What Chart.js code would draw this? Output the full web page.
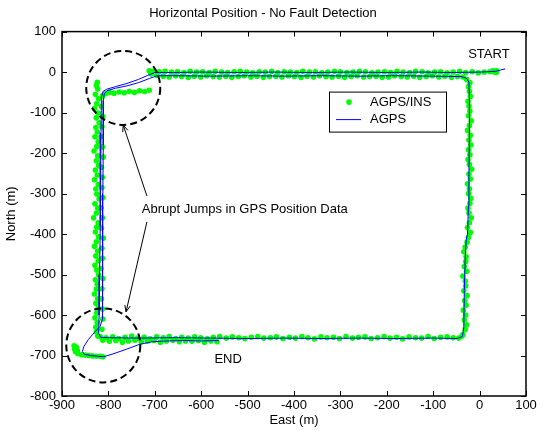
<!DOCTYPE html>
<html>
<head>
<meta charset="utf-8">
<title>Horizontal Position - No Fault Detection</title>
<script src="https://cdn.jsdelivr.net/npm/chart.js@4.4.1/dist/chart.umd.min.js"></script>
<style>
  html, body { margin: 0; padding: 0; background: #fff; }
  #wrap { width: 545px; height: 432px; }
</style>
</head>
<body>
<div id="wrap"><canvas id="posChart" width="545" height="432"></canvas></div>
<script>
// axis ranges and tick steps (metres)
const eastRange = [-900, 100];
const northRange = [-800, 100];
const tickStep = 100;

// AGPS track, [east, north] in driving order
const agpsTrack = [
  [55,8],[45,5],[35,2],[20,1],[0,0],[-60,-1],[-120,0],[-200,-1],[-280,0],[-360,-1],[-440,0],[-520,-1],[-600,0],[-660,-1],[-700,-1],
  [-715,-8],[-735,-18],[-760,-28],[-785,-36],[-803,-42],[-812,-48],[-815,-62],[-816,-150],[-817,-260],[-818,-380],[-819,-500],[-820,-600],[-821,-645],[-817,-655],
  [-800,-656],[-740,-657],[-660,-656],[-580,-657],[-500,-658],[-420,-657],[-340,-658],[-260,-657],[-180,-658],[-100,-657],[-48,-658],
  [-37,-653],[-34,-630],[-33,-540],[-31,-460],[-29,-415],[-26,-400],[-24,-330],[-23,-250],[-22,-150],[-22,-60],[-23,-25],[-28,-15],
  [-40,-11],[-100,-10],[-180,-9],[-260,-10],[-340,-9],[-420,-10],[-500,-9],[-580,-10],[-650,-9],[-695,-9],
  [-712,-16],[-735,-26],[-760,-34],[-785,-40],[-803,-46],[-809,-54],[-811,-70],[-811,-180],[-812,-300],[-812,-420],[-813,-540],[-813,-610],
  [-818,-628],[-830,-643],[-843,-660],[-853,-678],[-856,-690],[-852,-697],[-838,-700],[-822,-702],[-810,-703],
  [-790,-696],[-760,-684],[-732,-672],[-705,-666],[-674,-664],[-640,-663],[-600,-664],[-562,-663]
];

// AGPS/INS solution points, [east, north], one list per leg
const insStart = [[35,2],[33,0],[37,3],[31,2],[36,-1]];

const insTopFirstPass = [
  [28,3],[22,1],[10,0],[-3,-2],[-16,1],[-30,-1],[-43,2],[-57,0],[-70,-2],[-84,1],[-97,0],[-111,-2],[-124,1],[-138,2],
  [-151,-1],[-165,0],[-178,2],[-192,-1],[-205,1],[-219,0],[-232,-2],[-246,1],[-259,2],[-273,0],[-286,-1],[-300,1],
  [-313,2],[-327,0],[-340,-2],[-354,1],[-367,0],[-381,2],[-394,-1],[-408,0],[-421,1],[-435,-1],[-448,2],[-462,0],
  [-475,1],[-489,-2],[-502,0],[-516,2],[-529,1],[-543,-1],[-556,0],[-570,2],[-583,-1],[-597,1],[-610,0],[-624,2],
  [-637,-1],[-651,1],[-664,0],[-678,2],[-691,1],[-705,2],[-712,3]
];

const insTopSecondPass = [
  [-28,-18],[-36,-12],[-48,-11],[-61,-13],[-75,-10],[-88,-12],[-102,-9],[-115,-11],[-129,-13],[-142,-10],[-156,-12],
  [-169,-11],[-183,-9],[-196,-12],[-210,-13],[-223,-10],[-237,-11],[-250,-12],[-264,-9],[-277,-11],[-291,-13],[-304,-10],
  [-318,-12],[-331,-11],[-345,-9],[-358,-12],[-372,-10],[-385,-13],[-399,-11],[-412,-9],[-426,-12],[-439,-10],[-453,-11],
  [-466,-13],[-480,-10],[-493,-12],[-507,-9],[-520,-11],[-534,-13],[-547,-10],[-561,-12],[-574,-11],[-588,-9],[-601,-12],
  [-615,-10],[-628,-13],[-642,-11],[-655,-9],[-669,-12],[-682,-10],[-696,-8],[-708,-5]
];

const insTopLeftJump = [
  [-712,-45],[-722,-48],[-733,-46],[-744,-50],[-755,-48],[-766,-51],[-777,-49],[-788,-52],[-798,-50],[-806,-53],[-812,-58]
];

const insLeftFirstPass = [
  [-824,-25],[-826,-33],[-823,-42],[-828,-55],[-821,-66],[-825,-78],[-830,-90],[-822,-101],[-826,-113],[-820,-125],
  [-827,-137],[-824,-148],[-829,-160],[-822,-172],[-825,-184],[-831,-195],[-823,-207],[-826,-219],[-821,-231],[-828,-242],
  [-824,-254],[-830,-266],[-822,-278],[-827,-289],[-825,-301],[-820,-313],[-829,-325],[-823,-336],[-826,-348],[-832,-360],
  [-822,-372],[-825,-383],[-828,-395],[-821,-407],[-826,-419],[-830,-430],[-823,-442],[-827,-454],[-822,-466],[-829,-477],
  [-825,-489],[-821,-501],[-828,-513],[-824,-524],[-826,-536],[-830,-548],[-823,-560],[-827,-571],[-822,-583],[-825,-595],
  [-829,-607],[-824,-618],[-827,-630],[-826,-642],[-823,-652]
];

const insLeftSecondPass = [
  [-813,-60],[-815,-85],[-812,-110],[-814,-135],[-816,-160],[-813,-185],[-811,-210],[-815,-235],[-813,-260],[-814,-285],
  [-812,-310],[-816,-335],[-813,-360],[-815,-385],[-811,-410],[-814,-435],[-813,-460],[-816,-485],[-812,-510],[-814,-535],
  [-815,-560],[-813,-585],[-812,-610],[-814,-635]
];

const insBottomFirstPass = [
  [-818,-653],[-805,-656],[-791,-654],[-778,-658],[-764,-655],[-750,-652],[-737,-657],[-723,-655],[-710,-659],[-696,-654],
  [-682,-656],[-669,-653],[-655,-658],[-642,-655],[-628,-657],[-614,-654],[-601,-656],[-587,-659],[-574,-655],[-560,-653],
  [-546,-657],[-533,-654],[-519,-656],[-506,-658],[-492,-655],[-478,-653],[-465,-657],[-451,-656],[-438,-654],[-424,-658],
  [-410,-655],[-397,-657],[-383,-653],[-370,-656],[-356,-659],[-342,-654],[-329,-656],[-315,-655],[-302,-658],[-288,-653],
  [-274,-657],[-261,-655],[-247,-654],[-234,-658],[-220,-656],[-206,-653],[-193,-657],[-179,-655],[-166,-659],[-152,-654],
  [-138,-656],[-125,-657],[-111,-653],[-98,-658],[-84,-655],[-70,-654],[-57,-656],[-45,-657],[-38,-652]
];

const insBottomSecondPass = [
  [-812,-662],[-798,-665],[-784,-663],[-770,-667],[-757,-664],[-743,-662],[-729,-666],[-716,-665],[-702,-663],[-688,-667],
  [-675,-664],[-661,-662],[-647,-666],[-634,-664],[-620,-665],[-606,-663],[-593,-667],[-579,-664],[-566,-666]
];

const insBottomLeftJump = [
  [-874,-676],[-869,-680],[-873,-683],[-867,-688],[-871,-690],[-866,-695],[-858,-698],[-850,-699],[-842,-700],
  [-834,-701],[-826,-702],[-818,-702],[-812,-703]
];

const insRightSide = [
  [-36,-648],[-31,-636],[-28,-624],[-33,-612],[-30,-600],[-35,-588],[-29,-576],[-32,-564],[-27,-552],[-34,-540],
  [-30,-528],[-31,-516],[-36,-504],[-28,-492],[-33,-480],[-30,-468],[-29,-456],[-34,-444],[-31,-432],[-27,-420],
  [-24,-408],[-20,-396],[-26,-384],[-22,-372],[-18,-360],[-23,-348],[-25,-336],[-21,-324],[-19,-312],[-24,-300],
  [-22,-288],[-26,-276],[-20,-264],[-23,-252],[-17,-240],[-22,-228],[-25,-216],[-21,-204],[-24,-192],[-19,-180],
  [-23,-168],[-20,-156],[-26,-144],[-22,-132],[-18,-120],[-24,-108],[-21,-96],[-23,-84],[-25,-72],[-20,-60],
  [-22,-48],[-24,-36],[-21,-26]
];

const seriesNames = ['AGPS/INS', 'AGPS'];

// annotations (data units)
const jumpCircles = [[-768, -39], [-811, -675]];
const calloutText = 'Abrupt Jumps in GPS Position Data';
const calloutAt = [-728, -340];
const calloutArrows = [
  [[-717, -306], [-768, -131]],
  [[-717, -370], [-762, -592]]
];
const startLabel = ['START', 20, 43];
const endLabel = ['END', -542, -709];

const FONT = 'Arial, "Liberation Sans", Helvetica, sans-serif';
Chart.defaults.font.family = FONT;
Chart.defaults.font.size = 13;
Chart.defaults.color = '#000';

function toPoints(list) {
  return list.map(p => ({ x: p[0], y: p[1] }));
}

const insPoints = [].concat(insStart, insTopFirstPass, insLeftFirstPass, insBottomLeftJump,
  insBottomFirstPass, insRightSide, insTopSecondPass, insTopLeftJump, insLeftSecondPass, insBottomSecondPass);

// dashed circles, arrows and text labels
const annotationPlugin = {
  id: 'jumpNotes',
  afterDatasetsDraw(chart) {
    const { ctx, scales: { x, y } } = chart;
    ctx.save();
    ctx.strokeStyle = '#000';

    // dashed circles round the jumps
    ctx.lineWidth = 2;
    ctx.setLineDash([7, 4]);
    jumpCircles.forEach(c => {
      ctx.beginPath();
      ctx.arc(x.getPixelForValue(c[0]), y.getPixelForValue(c[1]), 37, 0, Math.PI * 2);
      ctx.stroke();
    });
    ctx.setLineDash([]);

    // arrows from the callout to the circles
    ctx.lineWidth = 1;
    calloutArrows.forEach(a => {
      const x0 = x.getPixelForValue(a[0][0]), y0 = y.getPixelForValue(a[0][1]);
      const x1 = x.getPixelForValue(a[1][0]), y1 = y.getPixelForValue(a[1][1]);
      const ang = Math.atan2(y1 - y0, x1 - x0);
      ctx.beginPath();
      ctx.moveTo(x0, y0);
      ctx.lineTo(x1, y1);
      ctx.moveTo(x1 - 7 * Math.cos(ang - 0.4), y1 - 7 * Math.sin(ang - 0.4));
      ctx.lineTo(x1, y1);
      ctx.lineTo(x1 - 7 * Math.cos(ang + 0.4), y1 - 7 * Math.sin(ang + 0.4));
      ctx.stroke();
    });

    ctx.fillStyle = '#000';
    ctx.font = '13px ' + FONT;
    ctx.textBaseline = 'middle';
    ctx.textAlign = 'left';
    ctx.fillText(calloutText, x.getPixelForValue(calloutAt[0]), y.getPixelForValue(calloutAt[1]));
    ctx.textAlign = 'center';
    [startLabel, endLabel].forEach(l => {
      ctx.fillText(l[0], x.getPixelForValue(l[1]), y.getPixelForValue(l[2]));
    });
    ctx.restore();
  }
};

// matlab style box with ticks pointing in, plus the legend
const axesBoxPlugin = {
  id: 'axesBox',
  afterDraw(chart) {
    const { ctx, chartArea: a, scales: { x, y } } = chart;
    const tl = 5;
    ctx.save();
    ctx.strokeStyle = '#000';
    ctx.lineWidth = 1;
    ctx.beginPath();
    x.ticks.forEach(t => {
      const px = Math.round(x.getPixelForValue(t.value)) + 0.5;
      ctx.moveTo(px, a.bottom); ctx.lineTo(px, a.bottom - tl);
      ctx.moveTo(px, a.top); ctx.lineTo(px, a.top + tl);
    });
    y.ticks.forEach(t => {
      const py = Math.round(y.getPixelForValue(t.value)) + 0.5;
      ctx.moveTo(a.left, py); ctx.lineTo(a.left + tl, py);
      ctx.moveTo(a.right, py); ctx.lineTo(a.right - tl, py);
    });
    ctx.stroke();
    ctx.lineWidth = 1.5;
    ctx.strokeRect(a.left, a.top, a.right - a.left, a.bottom - a.top);

    // legend box
    const lx = a.right - 197, ly = a.top + 60, lw = 117, lh = 40;
    ctx.fillStyle = '#fff';
    ctx.fillRect(lx, ly, lw, lh);
    ctx.lineWidth = 1;
    ctx.strokeRect(lx + 0.5, ly + 0.5, lw, lh);
    const ds = chart.data.datasets;
    ctx.fillStyle = ds[0].backgroundColor;
    ctx.beginPath();
    ctx.arc(lx + 20, ly + 10.5, 2.8, 0, Math.PI * 2);
    ctx.fill();
    ctx.strokeStyle = ds[1].borderColor;
    ctx.beginPath();
    ctx.moveTo(lx + 7, ly + 28); ctx.lineTo(lx + 32, ly + 28);
    ctx.stroke();
    ctx.fillStyle = '#000';
    ctx.font = '13px ' + FONT;
    ctx.textBaseline = 'middle';
    ctx.textAlign = 'left';
    ctx.fillText(ds[0].label, lx + 41, ly + 10.5);
    ctx.fillText(ds[1].label, lx + 41, ly + 28);
    ctx.restore();
  }
};

const ctx = document.getElementById('posChart').getContext('2d');

const posChart = new Chart(ctx, {
  type: 'scatter',
  data: {
    datasets: [
      {
        label: seriesNames[0],
        data: toPoints(insPoints),
        showLine: false,
        pointRadius: 2.8,
        pointBorderWidth: 0,
        backgroundColor: '#00ff00',
        borderColor: '#00ff00',
        order: 2
      },
      {
        label: seriesNames[1],
        data: toPoints(agpsTrack),
        showLine: true,
        pointRadius: 0,
        borderWidth: 1,
        borderColor: '#0000ff',
        backgroundColor: '#0000ff',
        tension: 0,
        order: 1
      }
    ]
  },
  options: {
    responsive: false,
    animation: false,
    events: [],
    layout: { padding: { left: 0, right: 19, top: 0, bottom: 0 } },
    plugins: {
      legend: { display: false },
      tooltip: { enabled: false },
      title: {
        display: true,
        text: 'Horizontal Position - No Fault Detection',
        font: { size: 13, weight: 'normal' },
        color: '#000',
        padding: { top: 6, bottom: 10 }
      }
    },
    scales: {
      x: {
        type: 'linear',
        min: eastRange[0],
        max: eastRange[1],
        grid: { display: false, drawTicks: false },
        border: { display: false },
        ticks: { stepSize: tickStep, padding: 2, color: '#000', font: { size: 13 } },
        title: { display: true, text: 'East (m)', color: '#000', font: { size: 13 }, padding: { top: 0, bottom: 4 } },
        afterFit(scale) { scale.height = 36; }
      },
      y: {
        type: 'linear',
        min: northRange[0],
        max: northRange[1],
        grid: { display: false, drawTicks: false },
        border: { display: false },
        ticks: { stepSize: tickStep, padding: 6, color: '#000', font: { size: 13 } },
        title: { display: true, text: 'North (m)', color: '#000', font: { size: 13 }, padding: { top: 4, bottom: 0 } },
        afterFit(scale) { scale.width = 62; }
      }
    }
  },
  plugins: [annotationPlugin, axesBoxPlugin]
});
</script>
</body>
</html>
